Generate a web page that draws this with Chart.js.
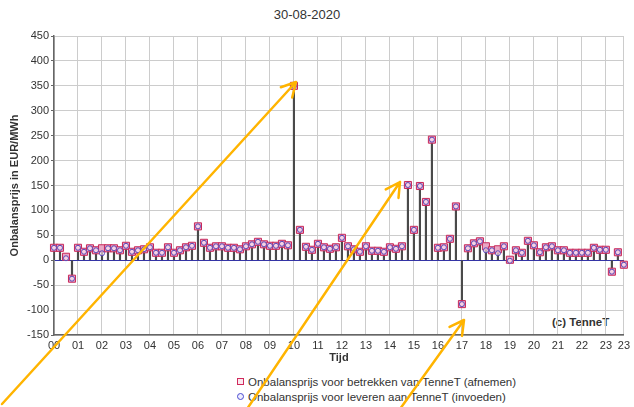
<!DOCTYPE html>
<html>
<head>
<meta charset="utf-8">
<script src="https://cdn.jsdelivr.net/npm/chart.js@4.4.1/dist/chart.umd.min.js"></script>
<style>
  body { margin: 0; background: #fff; font-family: "Liberation Sans", Arial, sans-serif; }
  #wrap { position: relative; width: 634px; height: 407px; }
  #wrap canvas { position: absolute; left: 0; top: 0; z-index: 2; }
  .txt { position: absolute; color: #333; white-space: nowrap; z-index: 1; }
  #title { top: 7px; left: 0; width: 614px; text-align: center; font-size: 13px; }
  #copy { left: 552px; top: 316px; font-size: 11.5px; font-weight: bold; }
  .leg { left: 237px; font-size: 11.5px; }
  .leg i { display: inline-block; width: 5px; height: 5px; margin-right: 4px; vertical-align: 1px; }
  .sq { border: 1.5px solid #d02a5c; background: #fbe8ef; }
  .ci { border: 1.5px solid #4a4ad0; border-radius: 50%; background: #eef; }
</style>
</head>
<body>
<div id="wrap">
  <div class="txt" id="title">30-08-2020</div>
  <div class="txt" id="copy">(c) TenneT</div>
  <div class="txt leg" style="top:376px"><i class="sq"></i>Onbalansprijs voor betrekken van TenneT (afnemen)</div>
  <div class="txt leg" style="top:391px"><i class="ci"></i>Onbalansprijs voor leveren aan TenneT (invoeden)</div>
  <canvas id="c" width="634" height="407"></canvas>
</div>
<script>
// hour tick labels (one per hour, the last one repeated at 23:45)
const hourTicks = ['00','01','02','03','04','05','06','07','08','09','10','11',
                   '12','13','14','15','16','17','18','19','20','21','22','23'];

// quarter-hours of the day
const quarters = [];
for (let h = 0; h < 24; h++) for (let q = 0; q < 4; q++) quarters.push(hourTicks[h] + ':' + String(q * 15).padStart(2, '0'));

// Onbalansprijs voor betrekken van TenneT (afnemen), EUR/MWh
const afnemen = [
  25, 25, 7, -37, 25, 17, 24, 20, 24, 24, 24, 20,
  29, 17, 20, 22, 26, 15, 15, 26, 15, 20, 26, 29,
  68, 35, 25, 28, 28, 25, 25, 22, 28, 32, 37, 32,
  29, 29, 33, 30, 350, 61, 27, 21, 33, 26, 23, 26,
  45, 28, 22, 17, 28, 19, 19, 17, 26, 23, 28, 151,
  61, 149, 117, 242, 25, 26, 43, 108, -88, 24, 34, 38,
  28, 20, 22, 28, 1, 20, 15, 39, 30, 16, 26, 28,
  20, 20, 15, 15, 15, 15, 25, 21, 21, -23, 16, -9
];

// Onbalansprijs voor leveren aan TenneT (invoeden), EUR/MWh
const invoeden = [
  25, 25, 4, -37, 25, 17, 24, 20, 14, 24, 24, 20,
  29, 17, 20, 22, 26, 15, 15, 26, 15, 20, 26, 29,
  68, 35, 25, 28, 28, 25, 25, 22, 28, 32, 37, 32,
  29, 29, 33, 30, 350, 61, 27, 21, 33, 26, 23, 26,
  45, 28, 22, 17, 28, 19, 19, 17, 26, 23, 28, 151,
  61, 149, 117, 242, 25, 26, 43, 108, -88, 24, 34, 38,
  20, 20, 14, 28, -1, 20, 15, 39, 30, 16, 26, 28,
  20, 20, 15, 15, 15, 15, 25, 21, 21, -23, 16, -9
];

// hand-drawn orange arrows on top of the picture (pixel coords: tail -> head)
const arrows = [
  { from: [2, 404], to: [296, 82] },
  { from: [247, 409], to: [400, 182] },
  { from: [400, 409], to: [464, 320] }
];

const arrowPlugin = {
  id: 'arrows',
  afterDraw(chart) {
    const ctx = chart.ctx;
    ctx.save();
    ctx.strokeStyle = '#ffb400';
    ctx.lineWidth = 2.5;
    ctx.lineCap = 'round';
    arrows.forEach(a => {
      const [x0, y0] = a.from, [x1, y1] = a.to;
      const ang = Math.atan2(y1 - y0, x1 - x0);
      ctx.beginPath();
      ctx.moveTo(x0, y0); ctx.lineTo(x1, y1);
      [-0.5, 0.5].forEach(d => {
        ctx.moveTo(x1, y1);
        ctx.lineTo(x1 - 16 * Math.cos(ang + d), y1 - 16 * Math.sin(ang + d));
      });
      ctx.stroke();
    });
    ctx.restore();
  }
};

Chart.defaults.font.family = '"Liberation Sans", Arial, sans-serif';
Chart.defaults.color = '#333';

new Chart(document.getElementById('c'), {
  type: 'bar',
  data: {
    labels: quarters,
    datasets: [
      {
        type: 'line', label: 'invoeden', data: invoeden, showLine: false, order: 1,
        pointStyle: 'circle', pointRadius: 2.5, borderWidth: 1,
        pointBorderColor: '#5a48b8', pointBackgroundColor: 'rgba(255,240,248,0.6)'
      },
      {
        type: 'line', label: 'afnemen', data: afnemen, showLine: false, order: 2,
        pointStyle: 'rect', pointRadius: 5, borderWidth: 1,
        pointBorderColor: '#c8285a', pointBackgroundColor: '#e9a6c4'
      },
      {
        label: 'stem', data: afnemen.map(v => [0, v]), order: 3,
        backgroundColor: '#4a4a4a', barThickness: 1.5
      }
    ]
  },
  options: {
    responsive: false,
    animation: false,
    layout: { padding: { top: 36, right: 4, bottom: 42, left: 0 } },
    plugins: { legend: { display: false }, tooltip: { enabled: false } },
    scales: {
      x: {
        offset: false,
        grid: {
          offset: false,
          color: c => (c.index % 4 === 0 || c.index === 95) ? '#cccccc' : 'rgba(0,0,0,0)',
          drawTicks: false
        },
        border: { color: '#666', width: 1.5 },
        ticks: {
          autoSkip: false, maxRotation: 0, padding: 4, font: { size: 11 },
          callback: (v, i) => i % 4 === 0 ? hourTicks[i / 4] : (i === 95 ? hourTicks[23] : '')
        },
        title: { display: true, text: 'Tijd', font: { size: 11, weight: 'bold' }, padding: 0 },
        afterFit: s => { s.height = 30; }
      },
      y: {
        min: -150, max: 450,
        ticks: { stepSize: 50, padding: 2, font: { size: 11 } },
        grid: {
          color: c => c.tick.value === 0 ? '#3434a8' : '#cccccc',
          tickColor: '#666', tickLength: 3
        },
        border: { color: '#666', width: 1.5 },
        title: { display: true, text: 'Onbalansprijs in EUR/MWh', font: { size: 11, weight: 'bold' }, padding: { top: 8, bottom: 2 } },
        afterFit: s => { s.width = 54; }
      }
    }
  },
  plugins: [arrowPlugin]
});
</script>
</body>
</html>
